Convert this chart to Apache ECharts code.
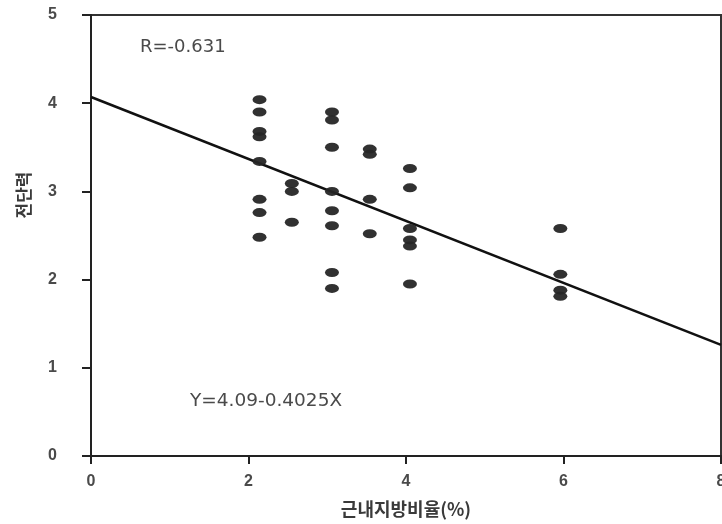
<!DOCTYPE html>
<html>
<head>
<meta charset="utf-8">
<script src="https://cdn.jsdelivr.net/npm/echarts@6/dist/echarts.min.js"></script>
<style>
html,body{margin:0;padding:0;background:#fff;}
#chart{width:722px;height:524px;}
</style>
</head>
<body>
<div id="chart"></div>
<script>
// Scatter data: x = 근내지방비율(%), y = 전단력
const xValues = [
  2.14,2.14,2.14,2.14,2.14,2.14,2.14,2.14,
  2.55,2.55,2.55,
  3.06,3.06,3.06,3.06,3.06,3.06,3.06,3.06,
  3.54,3.54,3.54,3.54,
  4.05,4.05,4.05,4.05,4.05,4.05,
  5.96,5.96,5.96,5.96
];
const yValues = [
  4.04,3.90,3.68,3.62,3.34,2.91,2.76,2.48,
  3.09,3.00,2.65,
  3.90,3.81,3.50,3.00,2.78,2.61,2.08,1.90,
  3.48,3.42,2.91,2.52,
  3.26,3.04,2.58,2.45,2.38,1.95,
  2.58,2.06,1.88,1.81
];
// Regression line endpoints as drawn
const lineX = [0, 8];
const lineY = [4.07, 1.26];
const xTicks = [0, 2, 4, 6, 8];
const yTicks = [0, 1, 2, 3, 4, 5];
const rText = 'R=-0.631';
const eqText = 'Y=4.09-0.4025X';
const xName = '근내지방비율(%)';
const yName = '전단력';

const scatterData = xValues.map((x, i) => [x, yValues[i]]);
const lineData = lineX.map((x, i) => [x, lineY[i]]);

const chart = echarts.init(document.getElementById('chart'), null, {renderer: 'canvas'});
const labelFont = {color: '#4a4a4a', fontSize: 16, fontWeight: 'bold', fontFamily: 'Liberation Sans, Arial, sans-serif'};
chart.setOption({
  animation: false,
  backgroundColor: '#ffffff',
  grid: {left: 91, right: 1, top: 15, bottom: 68, show: true, borderColor: '#333', borderWidth: 2,
         backgroundColor: 'transparent', containLabel: false, outerBoundsMode: 'none'},
  xAxis: {
    type: 'value', min: 0, max: 8, interval: 2,
    name: xName, nameLocation: 'middle', nameGap: 44,
    nameTextStyle: {color: '#3a3a3a', fontSize: 18, fontWeight: 'bold', fontFamily: 'Noto Sans CJK KR, sans-serif'},
    axisLine: {show: true, lineStyle: {color: '#222', width: 2}},
    axisTick: {show: true, inside: false, length: 8, lineStyle: {color: '#222', width: 2}},
    axisLabel: Object.assign({margin: 18, formatter: v => xTicks.includes(v) ? String(v) : ''}, labelFont),
    splitLine: {show: false}
  },
  yAxis: {
    type: 'value', min: 0, max: 5, interval: 1,
    axisLine: {show: true, lineStyle: {color: '#222', width: 2}},
    axisTick: {show: true, inside: false, length: 9, lineStyle: {color: '#222', width: 2}},
    axisLabel: Object.assign({margin: 34, formatter: v => yTicks.includes(v) ? String(v) : ''}, labelFont),
    splitLine: {show: false}
  },
  graphic: [
    {type: 'text', left: 140, top: 38, style: {text: rText, fill: '#4a4a4a', fontSize: 18, fontFamily: 'DejaVu Sans, sans-serif'}},
    {type: 'text', left: 190, top: 392, style: {text: eqText, fill: '#4a4a4a', fontSize: 18.5, fontFamily: 'DejaVu Sans, sans-serif'}},
    {type: 'text', x: 24, y: 195, rotation: Math.PI / 2,
     style: {text: yName, fill: '#3a3a3a', fontSize: 17, fontWeight: 'bold', fontFamily: 'Noto Sans CJK KR, sans-serif',
             align: 'center', verticalAlign: 'middle'}}
  ],
  series: [
    {
      type: 'line', data: lineData, showSymbol: false, symbol: 'none',
      lineStyle: {color: '#111', width: 2.5}, z: 3
    },
    {
      type: 'scatter', data: scatterData, symbol: 'circle', symbolSize: [14, 9],
      itemStyle: {color: '#262626', opacity: 0.95}, z: 4
    }
  ]
});
</script>
</body>
</html>
